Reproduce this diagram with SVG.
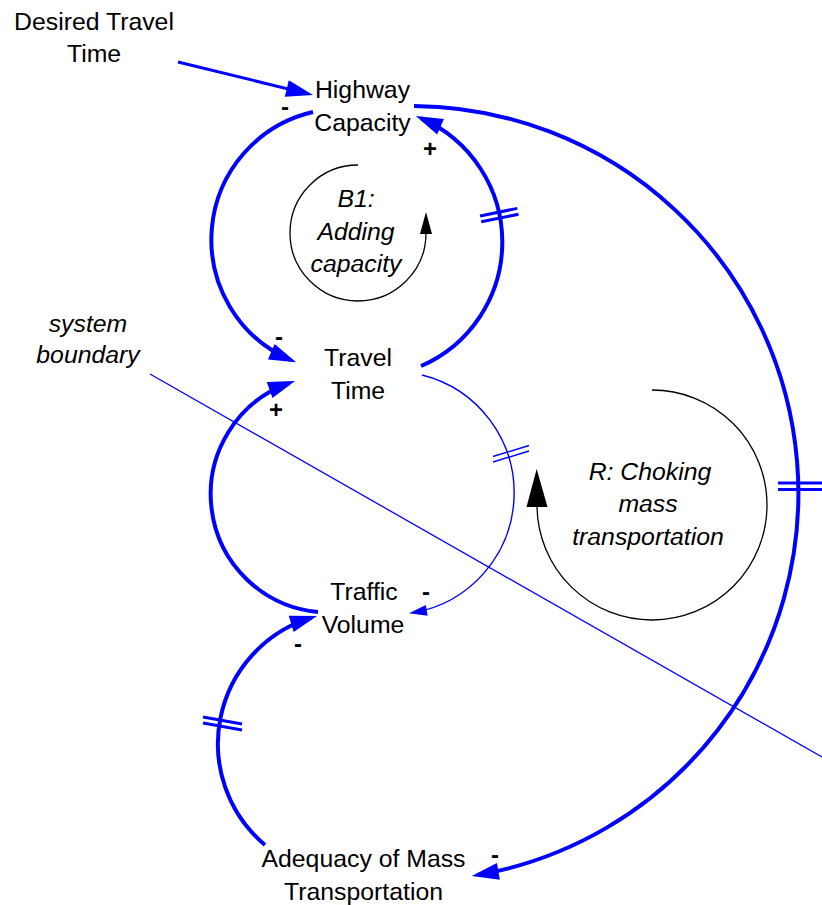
<svg xmlns="http://www.w3.org/2000/svg" width="822" height="905" viewBox="0 0 822 905">
  <style>
    text { font-family: "Liberation Sans", Arial, sans-serif; font-size: 24.8px; fill: #000; text-anchor: middle; }
    .loop { font-style: italic; }
    .sign { font-size: 24px; font-weight: bold; }
    .link { fill: none; stroke: #0000FF; stroke-width: 4; }
    .thin { fill: none; stroke: #0000FF; stroke-width: 1.4; }
    .delay { stroke: #0000FF; stroke-width: 3; }
    .delay-thin { stroke: #0000FF; stroke-width: 1.4; }
    .loopline { fill: none; stroke: #000; stroke-width: 1.3; }
  </style>
  <defs>
    <marker id="arr" markerUnits="userSpaceOnUse" markerWidth="27" markerHeight="17" refX="21" refY="8.5" orient="auto" overflow="visible">
      <path d="M0,0 L27,8.5 L0,17 z" fill="#0000FF"/>
    </marker>
    <marker id="arrS" markerUnits="userSpaceOnUse" markerWidth="18" markerHeight="11" refX="14" refY="5.5" orient="auto" overflow="visible">
      <path d="M0,0 L18,5.5 L0,11 z" fill="#0000FF"/>
    </marker>
    <marker id="loopS" markerUnits="userSpaceOnUse" markerWidth="22" markerHeight="12" refX="1" refY="6" orient="auto" overflow="visible">
      <path d="M0,0 L22,6 L0,12 z" fill="#000"/>
    </marker>
    <marker id="loopL" markerUnits="userSpaceOnUse" markerWidth="38" markerHeight="21" refX="1" refY="10.5" orient="auto" overflow="visible">
      <path d="M0,0 L38,10.5 L0,21 z" fill="#000"/>
    </marker>
  </defs>

  <!-- causal links -->
  <g id="connectors">
    <!-- Desired Travel Time -> Highway Capacity -->
    <path class="link" style="stroke-width:3" d="M178,62 L307.2,93.6" marker-end="url(#arr)"/>
    <!-- Highway Capacity -> Travel Time -->
    <path class="link" d="M313,112 A131,131 0 0 0 290.6,360" marker-end="url(#arr)"/>
    <!-- Travel Time -> Highway Capacity (delayed) -->
    <path class="link" d="M421,366 A135,135 0 0 0 421.3,118.4" marker-end="url(#arr)"/>
    <line class="delay" x1="480.1" y1="216" x2="517.3" y2="208.4"/>
    <line class="delay" x1="481.3" y1="221.8" x2="518.5" y2="214.2"/>
    <!-- Travel Time -> Traffic Volume (delayed) -->
    <path class="thin" d="M422,375 A121.5,121.5 0 0 1 412.9,612.7" marker-end="url(#arrS)"/>
    <line class="delay-thin" x1="493" y1="456.5" x2="529" y2="445.5"/>
    <line class="delay-thin" x1="493" y1="462" x2="529" y2="451"/>
    <!-- Traffic Volume -> Travel Time -->
    <path class="link" d="M318,612 A118.2,118.2 0 0 1 289.4,382.9" marker-end="url(#arr)"/>
    <!-- Adequacy of Mass Transportation -> Traffic Volume (delayed) -->
    <path class="link" d="M265,845 A132,132 0 0 1 311.3,617.7" marker-end="url(#arr)"/>
    <line class="delay" x1="203" y1="717" x2="242" y2="724"/>
    <line class="delay" x1="203" y1="723" x2="242" y2="730"/>
    <!-- Highway Capacity -> Adequacy of Mass Transportation (delayed) -->
    <path class="link" d="M414,106 A387.4,387.4 0 0 1 477.7,875" marker-end="url(#arr)"/>
    <line class="delay" x1="778" y1="483" x2="822" y2="483"/>
    <line class="delay" x1="778" y1="489.5" x2="822" y2="489.5"/>
    <!-- system boundary -->
    <line class="thin" style="stroke-width:1.3" x1="150" y1="374" x2="822" y2="757"/>
  </g>

  <!-- polarities -->
  <g id="polarities">
    <text class="sign" x="285" y="114.5">-</text>
    <text class="sign" x="430" y="157">+</text>
    <text class="sign" x="279" y="344.5">-</text>
    <text class="sign" x="276" y="417.5">+</text>
    <text class="sign" x="426" y="599.5">-</text>
    <text class="sign" x="298" y="651.5">-</text>
    <text class="sign" x="495" y="862.5">-</text>
  </g>

  <!-- variables -->
  <g id="node-desired-travel-time">
    <text x="94" y="30">Desired Travel</text>
    <text x="94" y="62">Time</text>
  </g>
  <g id="node-highway-capacity">
    <text x="362.5" y="98">Highway</text>
    <text x="362.5" y="131">Capacity</text>
  </g>
  <g id="node-travel-time">
    <text x="358" y="366">Travel</text>
    <text x="358" y="399">Time</text>
  </g>
  <g id="node-traffic-volume">
    <text x="364" y="600">Traffic</text>
    <text x="363" y="633">Volume</text>
  </g>
  <g id="node-adequacy">
    <text x="363.5" y="867">Adequacy of Mass</text>
    <text x="363.5" y="900">Transportation</text>
  </g>

  <!-- boundary label -->
  <g id="label-boundary">
    <text class="loop" x="88" y="332">system</text>
    <text class="loop" x="88" y="363">boundary</text>
  </g>

  <!-- loop B1 -->
  <g id="loop-b1">
    <path class="loopline" d="M358,165 A68,68 0 1 0 426,233" marker-end="url(#loopS)"/>
    <text class="loop" x="356" y="207">B1:</text>
    <text class="loop" x="356" y="240">Adding</text>
    <text class="loop" x="356" y="272">capacity</text>
  </g>

  <!-- loop R -->
  <g id="loop-r">
    <path class="loopline" d="M652,390 A115,115 0 1 1 537,506" marker-end="url(#loopL)"/>
    <text class="loop" x="650" y="480">R: Choking</text>
    <text class="loop" x="648" y="512">mass</text>
    <text class="loop" x="648" y="545">transportation</text>
  </g>
</svg>
